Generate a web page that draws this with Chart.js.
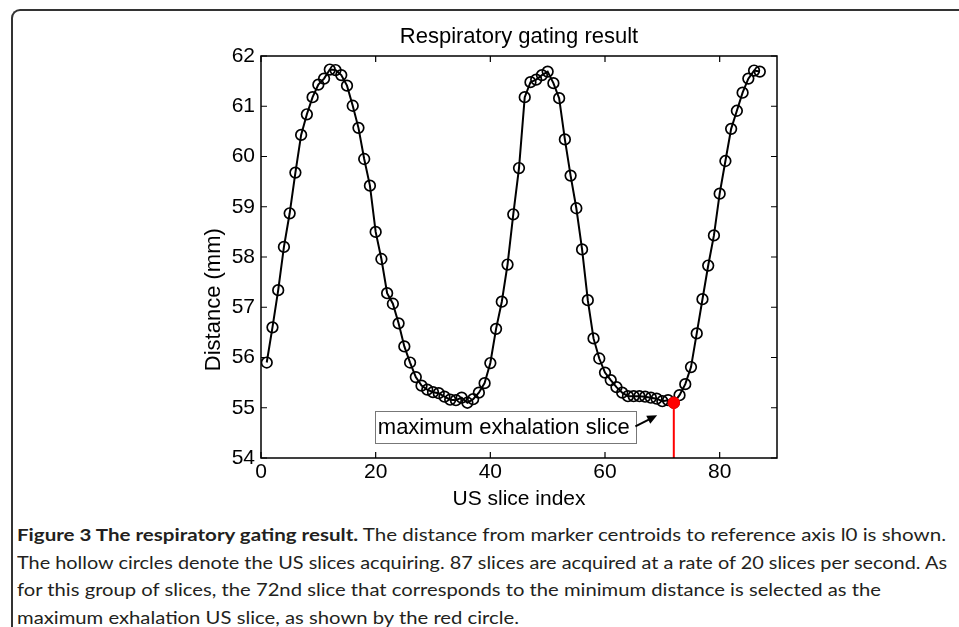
<!DOCTYPE html>
<html>
<head>
<meta charset="utf-8">
<script src="https://cdn.jsdelivr.net/npm/chart.js@4.4.1/dist/chart.umd.min.js"></script>
<style>
  html, body { margin:0; padding:0; background:#fff; }
  body { width:959px; height:627px; position:relative; overflow:hidden; }
  #frame { position:absolute; left:11px; top:9px; width:980px; height:700px;
           border-left:2px solid #333; border-top:2px solid #333; border-top-left-radius:9px; }
  #wrap { position:absolute; left:0; top:0; width:959px; height:520px; }
  #caption { position:absolute; left:17px; top:521px; font-family:Lato, "Open Sans", sans-serif;
             font-size:17.5px; color:#231f20; }
  #caption .ln { position:absolute; left:0; white-space:nowrap; transform-origin:0 50%; line-height:22px; }
  #caption b { font-weight:700; }
</style>
</head>
<body>
<div id="frame"></div>
<div id="wrap"><canvas id="c" width="959" height="520"></canvas></div>
<div id="caption">
  <div class="ln" data-w="929" style="top:3px"><b>Figure 3 The respiratory gating result.</b> The distance from marker centroids to reference axis l0 is shown.</div>
  <div class="ln" data-w="930" style="top:30.5px">The hollow circles denote the US slices acquiring. 87 slices are acquired at a rate of 20 slices per second. As</div>
  <div class="ln" data-w="864" style="top:58px">for this group of slices, the 72nd slice that corresponds to the minimum distance is selected as the</div>
  <div class="ln" data-w="502" style="top:85.5px">maximum exhalation US slice, as shown by the red circle.</div>
</div>
<script>
// ---- data ----
const sliceIndex = [1,2,3,4,5,6,7,8,9,10,11,12,13,14,15,16,17,18,19,20,21,22,23,24,25,26,27,28,29,30,
  31,32,33,34,35,36,37,38,39,40,41,42,43,44,45,46,47,48,49,50,51,52,53,54,55,56,57,58,59,60,
  61,62,63,64,65,66,67,68,69,70,71,72,73,74,75,76,77,78,79,80,81,82,83,84,85,86,87];
const distanceMM = [55.90,56.60,57.34,58.20,58.87,59.68,60.43,60.84,61.18,61.43,
  61.55,61.73,61.72,61.62,61.41,61.01,60.57,59.95,59.42,58.50,
  57.96,57.28,57.07,56.68,56.22,55.90,55.61,55.44,55.36,55.31,
  55.29,55.22,55.16,55.15,55.20,55.10,55.17,55.30,55.49,55.89,
  56.57,57.11,57.85,58.85,59.77,61.18,61.48,61.53,61.62,61.69,
  61.46,61.16,60.34,59.62,58.97,58.15,57.14,56.38,55.98,55.70,
  55.55,55.41,55.30,55.23,55.23,55.23,55.22,55.20,55.18,55.13,
  55.15,55.10,55.25,55.47,55.81,56.48,57.16,57.83,58.43,59.26,
  59.91,60.55,60.91,61.27,61.55,61.71,61.69];
const selectedSlice = [72];
const selectedDistance = [55.10];
const axisFloor = [54];
const xTickValues = [0,20,40,60,80];
const yTickValues = [54,55,56,57,58,59,60,61,62];
const annotationText = ["maximum exhalation slice"];
const yTitleText = ["Distance (mm)"];
const chartTitle = ["Respiratory gating result"];
// --------------

const mainPts = sliceIndex.map((s,i)=>({x:s, y:distanceMM[i]}));
const redPt = selectedSlice.map((s,i)=>({x:s, y:selectedDistance[i]}));
const redLine = [{x:selectedSlice[0], y:axisFloor[0]}, {x:selectedSlice[0], y:selectedDistance[0]}];
const FONT = '"Liberation Sans", Arial, sans-serif';

const frameTicks = {
  id:'frameTicks',
  afterDatasetsDraw(chart){
    const {ctx, chartArea:{left,right,top,bottom}, scales:{x,y}} = chart;
    ctx.save();
    // annotation box
    const bx1 = x.getPixelForValue(19.85), bx2 = x.getPixelForValue(65.3);
    const by1 = y.getPixelForValue(54.94), by2 = y.getPixelForValue(54.31);
    ctx.fillStyle='#fff';
    ctx.fillRect(bx1,by1,bx2-bx1,by2-by1);
    ctx.strokeStyle='#777'; ctx.lineWidth=1;
    ctx.strokeRect(Math.round(bx1)+0.5,Math.round(by1)+0.5,Math.round(bx2-bx1),Math.round(by2-by1));
    ctx.fillStyle='#000'; ctx.font='22px ' + FONT;
    ctx.textBaseline='middle'; ctx.textAlign='left';
    ctx.fillText(annotationText[0], bx1+3, (by1+by2)/2+1);
    // arrow
    const ax1 = bx2, ay1 = y.getPixelForValue(54.63);
    const ax2 = x.getPixelForValue(69.1), ay2 = y.getPixelForValue(54.85);
    ctx.strokeStyle='#000'; ctx.lineWidth=2;
    ctx.beginPath(); ctx.moveTo(ax1,ay1); ctx.lineTo(ax2-3,ay2+1.5); ctx.stroke();
    const ang = Math.atan2(ay2-ay1, ax2-ax1);
    ctx.beginPath();
    ctx.moveTo(ax2,ay2);
    ctx.lineTo(ax2-10*Math.cos(ang)+4.5*Math.sin(ang), ay2-10*Math.sin(ang)-4.5*Math.cos(ang));
    ctx.lineTo(ax2-10*Math.cos(ang)-4.5*Math.sin(ang), ay2-10*Math.sin(ang)+4.5*Math.cos(ang));
    ctx.closePath(); ctx.fillStyle='#000'; ctx.fill();
    ctx.restore();
  },
  afterDraw(chart){
    const {ctx, chartArea:{left,right,top,bottom}, scales:{x,y}} = chart;
    ctx.save();
    ctx.strokeStyle='#000'; ctx.lineWidth=1.5;
    ctx.strokeRect(left,top,right-left,bottom-top);
    ctx.lineWidth=1.2;
    ctx.beginPath();
    xTickValues.forEach(v=>{ const p=x.getPixelForValue(v);
      ctx.moveTo(p,bottom); ctx.lineTo(p,bottom-6); ctx.moveTo(p,top); ctx.lineTo(p,top+6); });
    yTickValues.forEach(v=>{ const p=y.getPixelForValue(v);
      ctx.moveTo(left,p); ctx.lineTo(left+6,p); ctx.moveTo(right,p); ctx.lineTo(right-6,p); });
    ctx.stroke();
    // chart title, centred over the plot area
    ctx.fillStyle='#000'; ctx.font='22px ' + FONT;
    ctx.textAlign='center'; ctx.textBaseline='middle';
    ctx.fillText(chartTitle[0], (left+right)/2, top-19);
    // y axis title
    ctx.translate(214, y.getPixelForValue(57.15));
    ctx.rotate(-Math.PI/2);
    ctx.fillText(yTitleText[0], 0, 0);
    ctx.restore();
  }
};

new Chart(document.getElementById('c'), {
  type:'line',
  data:{ datasets:[
    { data:redPt, showLine:false, pointRadius:5.8, pointBackgroundColor:'#ff0000', pointBorderColor:'#ff0000', pointBorderWidth:1 },
    { data:redLine, borderColor:'#ff0000', borderWidth:2, pointRadius:0, tension:0 },
    { data:mainPts, borderColor:'#000', borderWidth:2, tension:0, pointRadius:5.3, pointBorderWidth:1.7,
      pointBorderColor:'#000', pointBackgroundColor:'rgba(0,0,0,0)' }
  ]},
  options:{
    responsive:false, animation:false, devicePixelRatio:1,
    layout:{ padding:{ left:200, right:182, top:56, bottom:0 } },
    plugins:{ legend:{display:false}, tooltip:{enabled:false}, title:{display:false} },
    scales:{
      x:{ type:'linear', min:0, max:90,
          grid:{display:false, drawTicks:false}, border:{display:false},
          afterBuildTicks(s){ s.ticks = xTickValues.map(v=>({value:v})); },
          ticks:{ color:'#000', font:{family:FONT, size:21}, padding:2, maxRotation:0 },
          title:{ display:true, text:'US slice index', color:'#000', font:{family:FONT, size:21}, padding:{top:0,bottom:8} },
          afterFit(s){ s.height = 62; } },
      y:{ type:'linear', min:54, max:62,
          grid:{display:false, drawTicks:false}, border:{display:false},
          afterBuildTicks(s){ s.ticks = yTickValues.map(v=>({value:v})); },
          ticks:{ color:'#000', font:{family:FONT, size:21}, padding:6 },
          afterFit(s){ s.width = 61; } }
    }
  },
  plugins:[frameTicks]
});

// fit caption lines to target widths
document.querySelectorAll('#caption .ln').forEach(el=>{
  const w = el.getBoundingClientRect().width;
  const target = +el.dataset.w;
  el.style.transform = 'scaleX(' + (target/w) + ')';
});
</script>
</body>
</html>
